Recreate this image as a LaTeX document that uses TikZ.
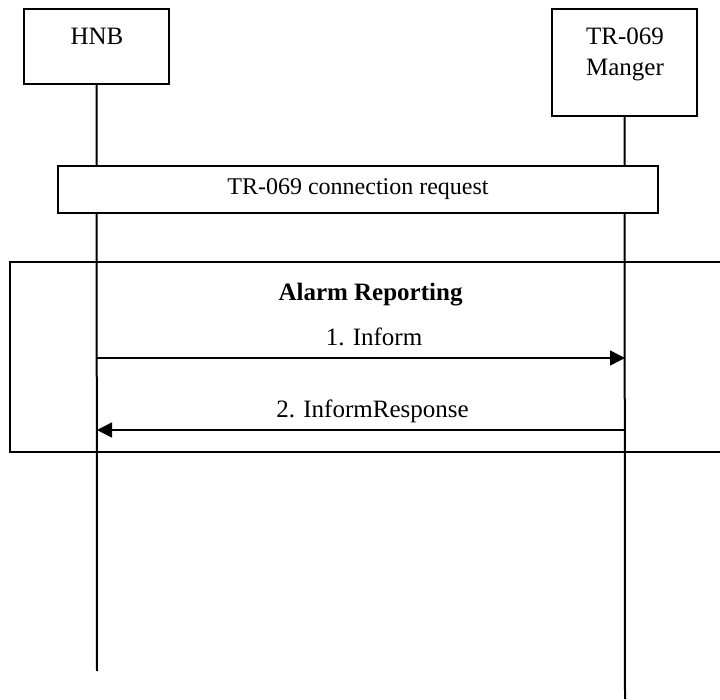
\documentclass[tikz,border=0pt]{standalone}
\usepackage{fontspec}
\setmainfont{Liberation Serif}
\usetikzlibrary{arrows.meta,positioning}

\begin{document}
\begin{tikzpicture}[x=1pt, y=-1pt, font=\fontsize{25}{31}\selectfont,
actor/.style={draw,line width=2pt,minimum width=145pt,inner sep=0pt},
life/.style={line width=2pt},
bar/.style={draw,fill=white,line width=2pt,minimum width=600pt,minimum height=47pt,inner sep=0pt,font=\fontsize{24}{29}\selectfont},
frm/.style={line width=2pt},
msg/.style={line width=1.5pt,-{Triangle[length=15pt,width=15pt]}},
lbl/.style={anchor=base}]
\useasboundingbox (0,0) rectangle (720,699);
% actors
\node[actor,minimum height=75pt] (hnb) at (96.5,46.5) {};
\node[lbl] (hnbname) at (97,44) {HNB};
\node[actor,minimum height=107pt] (mgr) at (624.5,62.5) {};
\node[lbl] (mgrname) at (625,44) {TR-069};
\node[lbl] (mgrname2) at (625,75) {Manger};
% lifelines
\coordinate (hnbend) at (97,671);
\coordinate (mgrend) at (625,699);
\draw[life] (hnb.south) -- (hnbend);
\draw[life] (mgr.south) -- (mgrend);
% connection request
\node[bar] (conn) at (358,189.5) {TR-069 connection request};
% alarm reporting frame
\draw[frm] (720,262) -| (10,452) -- (720,452);
\node[lbl] (alarm) at (370.5,300) {\bfseries Alarm Reporting};
% messages
\coordinate (inf1) at (97,358);
\coordinate (inf2) at (625,358);
\coordinate (resp1) at (625,430);
\coordinate (resp2) at (97,430);
\draw[msg] (inf1) -- (inf2);
\node[lbl] (inform) at (374,345) {1. Inform};
\draw[msg] (resp1) -- (resp2);
\node[lbl] (informresp) at (372.5,417) {2. InformResponse};
\end{tikzpicture}
\end{document}
